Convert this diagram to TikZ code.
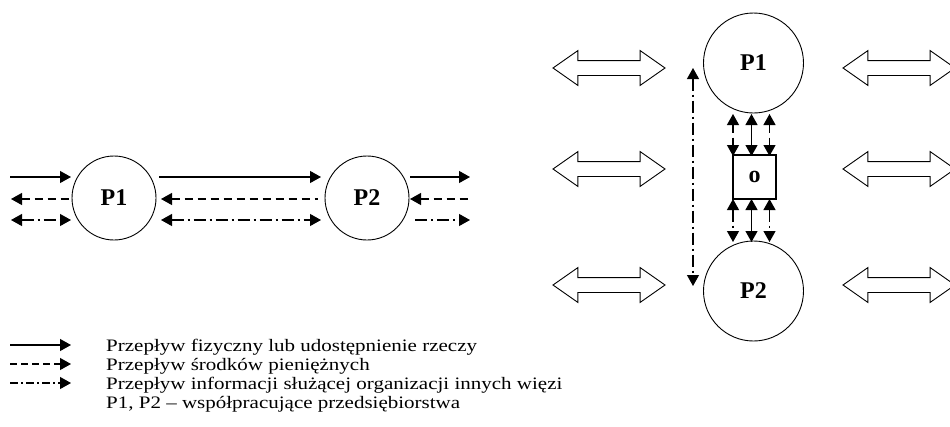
\documentclass[tikz,border=0pt]{standalone}
\usepackage{fontspec}
\setmainfont{Liberation Serif}
\newfontfamily\legendfont[FakeStretch=1.2]{Liberation Serif}
\usetikzlibrary{arrows.meta,shapes.arrows}

\begin{document}
\begin{tikzpicture}[x=1pt,y=-1pt,
  firm/.style={circle,draw,line width=0.9pt,minimum size=84pt,inner sep=0pt,
    font=\fontsize{24}{24}\selectfont\bfseries},
  bigfirm/.style={firm,minimum size=100pt},
  office/.style={rectangle,draw,line width=1.8pt,minimum width=43pt,minimum height=44pt,
    inner sep=0pt,font=\fontsize{24}{24}\selectfont\bfseries},
  tip/.tip={Triangle[length=11pt,width=12pt]},
  flow/.style={line width=1.2pt,-tip},
  twoway/.style={line width=1.2pt,tip-tip},
  backflow/.style={line width=1.2pt,tip-},
  money/.style={dash pattern=on 8pt off 5pt},
  info/.style={dash pattern=on 12pt off 4pt on 2pt off 4pt},
  link/.style={double arrow,draw,line width=0.9pt,minimum height=112pt,
    text height=7pt,text depth=7pt,text width=0pt,
    double arrow head extend=10pt,double arrow tip angle=70,inner sep=0pt},
  legend/.style={anchor=base west,inner sep=0pt,font=\legendfont\fontsize{17.5}{17.5}\selectfont}
]
\clip (0,0) rectangle (950,426);

% ---------- chain of two firms ----------
\node[firm] (A1) at (114,198) {P1};
\node[firm] (A2) at (367,198) {P2};

% left inflows / outflows
\coordinate (la1) at (10,177);  \coordinate (lb1) at (71,177);
\coordinate (la2) at (11,199);  \coordinate (lb2) at (71,199);
\coordinate (la3) at (11,220);  \coordinate (lb3) at (71,220);
\draw[flow] (la1) -- (lb1);
\draw[backflow,money] (la2) -- (lb2);
\draw[twoway,info] (la3) -- (lb3);

% between P1 and P2
\coordinate (ma1) at (159,177); \coordinate (mb1) at (321,177);
\coordinate (ma2) at (161,199); \coordinate (mb2) at (318,199);
\coordinate (ma3) at (161,220); \coordinate (mb3) at (321,220);
\draw[flow] (ma1) -- (mb1);
\draw[backflow,money] (ma2) -- (mb2);
\draw[twoway,info] (ma3) -- (mb3);

% right side
\coordinate (ra1) at (410,177); \coordinate (rb1) at (470,177);
\coordinate (ra2) at (410,199); \coordinate (rb2) at (470,199);
\coordinate (ra3) at (415,220); \coordinate (rb3) at (470,220);
\draw[flow] (ra1) -- (rb1);
\draw[backflow,money] (ra2) -- (rb2);
\draw[flow,info] (ra3) -- (rb3);

% ---------- firms linked through an organiser ----------
\node[bigfirm] (B1) at (753.5,63) {P1};
\node[bigfirm] (B2) at (753.5,291) {P2};
\node[office] (O) at (754.5,177) {o};

\foreach \x/\n in {733/l,751.5/m,769.5/r}{
  \coordinate (t\n) at (\x,114);
  \coordinate (u\n) at (\x,156);
  \coordinate (v\n) at (\x,199);
  \coordinate (w\n) at (\x,242);
}
\draw[twoway,money] (tl) -- (ul);
\draw[twoway] (tm) -- (um);
\draw[twoway,money] (tr) -- (ur);
\draw[twoway,info] (vl) -- (wl);
\draw[twoway] (vm) -- (wm);
\draw[twoway,info] (vr) -- (wr);

\coordinate (dtop) at (693,68);
\coordinate (dbot) at (693,286);
\draw[twoway,info] (dtop) -- (dbot);

% relations with the environment
\node[link] (e1) at (609,68) {};
\node[link] (e2) at (609,169) {};
\node[link] (e3) at (609,285) {};
\node[link] (f1) at (899,68) {};
\node[link] (f2) at (899,169) {};
\node[link] (f3) at (899,285) {};

% ---------- legend ----------
\coordinate (ka1) at (10,345); \coordinate (kb1) at (71,345);
\coordinate (ka2) at (10,364); \coordinate (kb2) at (71,364);
\coordinate (ka3) at (10,383); \coordinate (kb3) at (71,383);
\draw[flow] (ka1) -- (kb1);
\draw[flow,dash pattern=on 7pt off 4pt] (ka2) -- (kb2);
\draw[flow,dash pattern=on 8pt off 3pt on 2pt off 3pt] (ka3) -- (kb3);
\node[legend] (t1) at (106,351) {Przepływ fizyczny lub udostępnienie rzeczy};
\node[legend] (t2) at (106,370) {Przepływ środków pieniężnych};
\node[legend] (t3) at (106,389) {Przepływ informacji służącej organizacji innych więzi};
\node[legend] (t4) at (106,408) {P1, P2 – współpracujące przedsiębiorstwa};
\end{tikzpicture}
\end{document}
